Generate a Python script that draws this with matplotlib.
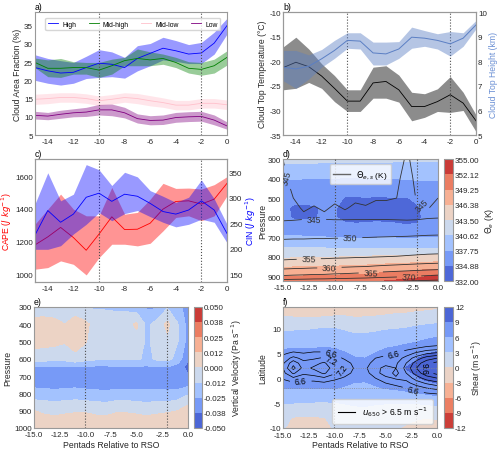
import numpy as np
import matplotlib
matplotlib.use('Agg')
import matplotlib.pyplot as plt
from matplotlib.lines import Line2D
from matplotlib.ticker import FormatStrFormatter

plt.rcParams['font.family'] = ['Liberation Sans', 'DejaVu Sans']
plt.rcParams['font.size'] = 6.2
plt.rcParams['xtick.labelsize'] = 5.8
plt.rcParams['ytick.labelsize'] = 5.8
plt.rcParams['axes.unicode_minus'] = False
plt.rcParams['axes.edgecolor'] = '0.6'
plt.rcParams['axes.linewidth'] = 0.8
plt.rcParams['xtick.major.size'] = 0
plt.rcParams['ytick.major.size'] = 0
plt.rcParams['xtick.major.pad'] = 2
plt.rcParams['ytick.major.pad'] = 1.5
plt.rcParams['xtick.color'] = '0.15'
plt.rcParams['ytick.color'] = '0.15'
plt.rcParams['axes.labelcolor'] = '0.15'
plt.rcParams['axes.labelpad'] = 1.5

# ---- data ----
pentads = np.arange(-15, 1)

# a) cloud area fraction (%)
high = [23.5, 22.6, 22.0, 22.2, 23.5, 24.7, 24.4, 23.5, 26.0, 27.4, 28.8, 28.1, 27.2, 27.5, 30.2, 35.0]
high_hi = [27.0, 26.0, 25.4, 24.9, 26.6, 28.4, 27.8, 26.3, 29.5, 30.1, 31.8, 30.9, 29.8, 30.4, 33.2, 37.0]
high_lo = [20.0, 19.2, 18.7, 19.2, 20.5, 20.8, 21.0, 20.6, 22.6, 24.0, 25.6, 25.2, 24.6, 24.6, 27.2, 32.7]
midhigh = [24.9, 23.3, 23.3, 23.5, 23.5, 22.8, 24.0, 25.4, 26.0, 25.6, 26.0, 24.9, 23.3, 23.0, 24.0, 26.3]
midhigh_hi = [26.1, 25.6, 26.0, 25.1, 24.9, 24.9, 25.8, 26.3, 28.6, 27.8, 27.2, 26.3, 25.1, 24.9, 25.8, 28.1]
midhigh_lo = [23.5, 21.0, 20.8, 21.7, 21.7, 20.8, 21.7, 24.0, 24.0, 24.0, 24.4, 23.5, 22.0, 21.4, 22.0, 24.2]
midlow = [14.8, 15.0, 15.3, 15.3, 15.0, 14.4, 14.8, 15.3, 15.0, 14.4, 13.9, 13.2, 13.2, 13.7, 13.7, 13.3]
midlow_hi = [16.2, 16.4, 16.6, 16.6, 16.3, 15.7, 16.1, 16.6, 16.4, 15.8, 15.2, 14.5, 14.5, 15.0, 15.0, 14.6]
midlow_lo = [13.4, 13.6, 14.0, 14.0, 13.7, 13.1, 13.5, 14.0, 13.6, 13.0, 12.6, 11.9, 11.9, 12.4, 12.4, 12.0]
low = [10.4, 10.2, 10.7, 11.1, 11.3, 11.9, 11.9, 11.1, 9.5, 9.0, 9.1, 9.8, 10.0, 10.1, 9.1, 7.5]
low_hi = [11.5, 11.2, 11.8, 12.2, 12.6, 13.4, 13.5, 12.6, 10.8, 10.3, 10.5, 11.2, 11.4, 11.5, 10.5, 8.6]
low_lo = [9.4, 9.2, 9.6, 10.0, 10.1, 10.5, 10.3, 9.7, 8.3, 7.8, 7.9, 8.5, 8.7, 8.8, 7.8, 6.6]

# b) cloud top temperature (C) and height (km)
ctt = [-21.3, -20.2, -21.1, -23.0, -25.5, -28.1, -28.1, -24.4, -24.1, -25.8, -29.2, -29.2, -28.2, -26.8, -28.5, -32.1]
ctt_hi = [-17.1, -15.1, -17.5, -20.5, -22.9, -25.8, -25.8, -21.2, -20.9, -22.8, -26.3, -26.6, -25.6, -23.1, -26.3, -30.9]
ctt_lo = [-25.8, -25.5, -24.3, -25.5, -28.2, -30.2, -30.2, -27.5, -27.5, -28.3, -32.1, -31.4, -30.2, -30.4, -30.0, -34.3]
cth = [7.76, 7.69, 7.80, 8.10, 8.44, 8.85, 8.82, 8.34, 8.30, 8.50, 8.98, 8.94, 8.85, 8.71, 8.94, 9.48]
cth_hi = [8.44, 8.44, 8.26, 8.48, 8.85, 9.16, 9.16, 8.78, 8.78, 8.80, 9.39, 9.25, 9.12, 9.21, 9.16, 9.66]
cth_lo = [7.21, 6.90, 7.28, 7.76, 8.12, 8.53, 8.50, 7.85, 7.85, 8.12, 8.53, 8.61, 8.50, 8.21, 8.61, 9.32]

# c) CAPE and CIN (J/kg)
cape = [1180, 1229, 1287, 1225, 1147, 1246, 1352, 1274, 1276, 1313, 1399, 1446, 1450, 1430, 1460, 1557]
cape_hi = [1307, 1399, 1491, 1399, 1358, 1358, 1532, 1368, 1379, 1460, 1557, 1526, 1528, 1522, 1549, 1598]
cape_lo = [1031, 1041, 1082, 1061, 996, 1102, 1184, 1184, 1174, 1190, 1266, 1348, 1358, 1328, 1358, 1481]
cin = [227, 275, 252, 268, 301, 309, 293, 307, 303, 289, 273, 268, 276, 294, 276, 230]
cin_hi = [288, 349, 294, 307, 365, 355, 324, 350, 341, 314, 303, 291, 301, 335, 298, 248]
cin_lo = [199, 199, 206, 229, 248, 271, 255, 269, 275, 263, 252, 243, 248, 258, 252, 212]

# d) theta_e (filled) and theta_es (lines), one list per pentad
p_d = [300, 400, 500, 550, 600, 650, 700, 750, 800, 850, 900, 925]
theta_e_cols = [
    [341.5, 337.9, 336.0, 335.5, 335.8, 336.6, 338.0, 340.6, 343.0, 346.0, 349.0, 350.5],
    [341.5, 337.8, 335.8, 334.5, 334.6, 336.5, 338.0, 340.5, 343.1, 346.2, 349.2, 350.6],
    [341.4, 337.8, 335.7, 334.4, 334.5, 336.4, 337.9, 340.3, 343.2, 346.3, 349.3, 350.8],
    [341.4, 337.8, 335.7, 334.6, 334.7, 336.3, 337.9, 340.4, 343.4, 346.5, 349.5, 351.0],
    [341.3, 337.7, 335.8, 335.2, 335.2, 336.2, 337.8, 340.3, 343.2, 346.2, 349.3, 350.9],
    [341.3, 337.7, 335.6, 335.0, 335.0, 336.1, 337.6, 340.2, 343.3, 346.4, 349.5, 351.2],
    [341.3, 337.6, 334.7, 334.3, 334.4, 335.4, 337.5, 340.1, 343.5, 346.6, 349.7, 351.4],
    [341.2, 337.6, 334.6, 334.2, 334.3, 335.3, 337.4, 340.0, 343.6, 346.7, 349.8, 351.5],
    [341.2, 337.7, 334.8, 334.2, 334.3, 335.4, 337.5, 340.1, 343.6, 346.8, 349.9, 351.7],
    [341.2, 337.7, 334.6, 334.3, 334.4, 335.5, 337.5, 340.1, 343.8, 347.0, 350.2, 351.9],
    [341.2, 337.8, 334.7, 334.3, 334.4, 335.4, 337.6, 340.2, 343.9, 347.2, 350.5, 352.2],
    [341.1, 337.8, 334.8, 334.3, 334.3, 335.3, 337.5, 340.1, 344.0, 347.4, 350.8, 352.5],
    [341.1, 337.9, 334.8, 334.2, 334.2, 335.1, 337.4, 340.0, 344.1, 347.5, 351.0, 352.8],
    [341.1, 338.0, 335.2, 334.7, 334.6, 335.1, 337.5, 340.1, 344.2, 347.7, 351.5, 353.2],
    [341.0, 338.0, 335.8, 335.4, 335.3, 335.8, 337.6, 340.0, 344.4, 347.9, 352.0, 353.6],
    [341.0, 338.0, 336.0, 335.5, 335.4, 336.0, 337.6, 340.0, 344.5, 348.0, 352.5, 354.0],
]
theta_es_cols = [
    [345.0, 344.6, 344.3, 344.1, 344.4, 346.2, 349.4, 352.0, 353.5, 358.0, 365.5, 372.0],
    [346.0, 345.6, 345.0, 344.6, 344.5, 346.3, 349.5, 352.1, 353.7, 358.3, 365.8, 372.3],
    [346.3, 346.0, 345.5, 345.2, 344.7, 346.3, 349.5, 352.1, 353.8, 358.5, 366.0, 372.5],
    [346.4, 346.0, 345.4, 344.9, 344.6, 346.4, 349.6, 352.2, 354.0, 358.8, 366.3, 372.8],
    [346.4, 346.0, 345.6, 345.2, 344.7, 346.4, 349.6, 352.2, 354.0, 358.8, 366.4, 372.9],
    [346.4, 346.0, 345.3, 344.8, 344.6, 346.4, 349.7, 352.3, 354.2, 359.2, 366.8, 373.2],
    [346.3, 345.9, 345.5, 345.1, 344.6, 346.4, 349.7, 352.3, 354.3, 359.4, 367.0, 373.4],
    [346.3, 345.9, 345.2, 344.8, 344.6, 346.5, 349.8, 352.4, 354.5, 359.7, 367.4, 373.6],
    [346.2, 345.8, 345.3, 344.9, 344.6, 346.5, 349.9, 352.4, 354.6, 359.9, 367.7, 373.8],
    [346.0, 345.6, 345.1, 344.7, 344.6, 346.6, 350.0, 352.5, 354.8, 360.3, 368.2, 374.2],
    [346.0, 345.6, 345.1, 344.7, 344.6, 346.6, 350.1, 352.6, 355.0, 360.6, 368.6, 374.5],
    [345.6, 345.2, 345.0, 344.6, 344.5, 346.7, 350.2, 352.6, 355.1, 360.9, 369.0, 374.8],
    [344.8, 344.6, 344.5, 344.3, 344.4, 346.7, 350.3, 352.7, 355.3, 361.2, 369.5, 375.1],
    [345.6, 345.3, 345.1, 344.8, 344.5, 346.8, 350.5, 352.8, 355.5, 361.5, 370.0, 375.4],
    [346.5, 346.0, 345.5, 345.1, 344.8, 346.9, 350.7, 352.9, 355.7, 361.8, 370.5, 375.7],
    [347.0, 346.0, 345.0, 344.5, 344.9, 347.0, 350.8, 353.0, 355.8, 362.0, 371.0, 376.0],
]

# e) vertical velocity (Pa/s), one list per pentad
p_e = [300, 400, 500, 600, 650, 700, 750, 800, 850, 900, 950, 1000]
omega_cols = [
    [-0.006, 0.004, 0.004, -0.006, -0.026, -0.030, -0.028, -0.020, -0.010, 0.000, 0.004, 0.005],
    [-0.007, 0.005, 0.004, -0.007, -0.027, -0.031, -0.028, -0.021, -0.011, -0.002, 0.003, 0.005],
    [-0.008, 0.004, 0.003, -0.008, -0.028, -0.031, -0.029, -0.022, -0.012, -0.003, 0.002, 0.004],
    [-0.009, 0.000, 0.001, -0.008, -0.027, -0.031, -0.028, -0.021, -0.011, -0.002, 0.003, 0.005],
    [-0.010, 0.008, 0.006, -0.004, -0.026, -0.030, -0.028, -0.020, -0.010, -0.001, 0.003, 0.005],
    [-0.013, 0.003, 0.001, -0.008, -0.027, -0.031, -0.029, -0.021, -0.011, -0.001, 0.003, 0.004],
    [-0.014, -0.005, -0.006, -0.010, -0.028, -0.031, -0.029, -0.022, -0.012, -0.002, 0.002, 0.004],
    [-0.014, -0.006, -0.007, -0.011, -0.028, -0.032, -0.030, -0.023, -0.013, -0.003, 0.002, 0.004],
    [-0.015, -0.006, -0.006, -0.010, -0.027, -0.031, -0.029, -0.021, -0.011, -0.001, 0.003, 0.005],
    [-0.016, -0.004, -0.006, -0.010, -0.027, -0.031, -0.029, -0.021, -0.011, -0.001, 0.003, 0.005],
    [-0.020, 0.002, -0.004, -0.010, -0.027, -0.031, -0.029, -0.021, -0.012, -0.002, 0.003, 0.004],
    [-0.027, -0.016, -0.015, -0.016, -0.027, -0.031, -0.029, -0.022, -0.013, -0.003, 0.002, 0.004],
    [-0.027, -0.007, -0.007, -0.010, -0.026, -0.031, -0.029, -0.022, -0.012, -0.002, 0.003, 0.004],
    [-0.014, 0.003, -0.002, -0.008, -0.026, -0.032, -0.030, -0.022, -0.012, -0.001, 0.003, 0.004],
    [-0.020, -0.012, -0.012, -0.018, -0.030, -0.034, -0.030, -0.021, -0.010, 0.000, 0.004, 0.005],
    [-0.032, -0.030, -0.030, -0.036, -0.042, -0.036, -0.028, -0.015, -0.002, 0.003, 0.005, 0.006],
]

# f) shear (m/s) and u650 (m/s), one list per pentad
lat_f = [-10, -8, -6, -4, -2, 0, 2, 4, 6, 8, 10, 12, 14.3]
shear_cols = [
    [0.3, 0.8, 2.2, 4.0, 6.0, 7.2, 7.8, 7.1, 5.9, 4.4, 2.4, 0.5, -2.0],
    [-1.0, -0.2, 2.0, 4.0, 6.1, 7.3, 7.9, 7.2, 5.9, 4.3, 2.5, 0.3, -2.5],
    [-1.2, -0.3, 1.9, 3.9, 6.2, 7.4, 7.9, 7.3, 6.0, 4.2, 2.6, 0.2, -3.0],
    [-1.2, -0.3, 1.8, 3.8, 6.1, 7.4, 7.9, 7.3, 6.0, 4.2, 2.8, 0.3, -3.5],
    [-0.8, -0.1, 1.7, 3.8, 6.2, 7.5, 8.0, 7.4, 6.1, 4.5, 3.0, 0.5, -3.5],
    [0.2, 0.8, 1.8, 3.9, 6.1, 7.3, 7.8, 7.2, 6.0, 4.4, 3.0, 0.8, -3.0],
    [0.5, 1.0, 2.2, 4.1, 5.8, 6.8, 7.2, 6.6, 5.6, 4.0, 2.6, 0.6, -2.2],
    [0.6, 1.2, 2.6, 4.5, 5.6, 6.3, 6.6, 6.1, 5.2, 3.6, 2.2, 0.2, -2.0],
    [0.6, 1.2, 2.7, 4.5, 5.5, 6.3, 6.5, 6.0, 5.0, 3.6, 2.3, 0.3, -2.2],
    [0.5, 1.1, 2.4, 4.2, 5.8, 6.6, 7.0, 6.6, 5.4, 3.8, 2.5, 0.6, -2.5],
    [0.4, 1.0, 2.2, 4.1, 6.1, 7.0, 7.3, 7.0, 6.0, 4.2, 2.7, 0.8, -2.0],
    [0.2, 0.9, 2.0, 4.0, 6.4, 7.5, 7.8, 7.4, 6.3, 4.5, 2.8, 1.0, -1.5],
    [-0.3, 0.6, 1.8, 4.2, 6.8, 8.2, 9.1, 8.0, 6.8, 4.8, 3.0, 1.2, -1.5],
    [-0.8, 0.2, 1.8, 4.5, 7.2, 8.8, 9.6, 8.8, 7.2, 5.2, 3.4, 1.4, -1.0],
    [-1.0, 0.0, 2.0, 5.0, 7.6, 9.5, 10.5, 9.8, 7.8, 5.8, 3.8, 1.5, -0.8],
    [-1.0, 0.2, 2.3, 5.4, 8.0, 10.0, 11.0, 10.2, 8.4, 6.2, 4.2, 1.6, -0.5],
]
lat_u = [-4, -3, -2, -1, 0, 1, 2, 3, 4, 5, 6, 7]
u650_cols = [
    [5.6, 5.8, 6.0, 6.3, 6.7, 7.0, 7.2, 7.1, 6.8, 6.5, 6.2, 6.0],
    [5.7, 5.9, 6.1, 6.5, 7.1, 7.9, 8.6, 8.2, 7.4, 6.7, 6.3, 6.0],
    [5.7, 5.9, 6.1, 6.4, 6.9, 7.3, 7.6, 7.4, 7.0, 6.6, 6.3, 6.0],
    [5.7, 5.9, 6.1, 6.4, 6.9, 7.5, 7.9, 7.6, 7.1, 6.7, 6.3, 6.0],
    [5.7, 5.9, 6.1, 6.5, 7.1, 7.9, 8.2, 7.9, 7.3, 6.7, 6.3, 6.0],
    [5.6, 5.8, 6.0, 6.3, 6.8, 7.3, 7.5, 7.3, 6.9, 6.5, 6.2, 5.9],
    [5.5, 5.7, 5.9, 6.1, 6.5, 6.9, 7.2, 6.9, 6.5, 6.2, 6.0, 5.8],
    [5.4, 5.6, 5.8, 6.0, 6.2, 6.4, 6.5, 6.4, 6.2, 6.0, 5.8, 5.6],
    [5.4, 5.6, 5.8, 6.0, 6.2, 6.4, 6.5, 6.4, 6.2, 6.0, 5.8, 5.6],
    [5.6, 5.8, 6.1, 6.4, 6.6, 6.9, 7.0, 6.8, 6.6, 6.4, 6.0, 5.8],
    [5.7, 6.0, 6.3, 6.6, 7.0, 7.6, 7.4, 7.0, 6.7, 6.5, 6.1, 5.8],
    [5.8, 6.1, 6.4, 6.8, 7.3, 7.0, 7.2, 7.1, 6.9, 6.6, 6.2, 5.9],
    [5.9, 6.2, 6.6, 7.0, 7.4, 7.8, 8.0, 7.8, 7.4, 6.9, 6.4, 6.0],
    [6.0, 6.4, 6.9, 7.5, 8.1, 8.7, 9.0, 8.7, 8.1, 7.3, 6.6, 6.1],
    [6.1, 6.6, 7.2, 7.9, 8.7, 9.4, 9.8, 9.4, 8.7, 7.7, 6.8, 6.2],
    [6.1, 6.7, 7.4, 8.2, 9.0, 9.8, 10.2, 9.8, 9.0, 7.9, 6.9, 6.3],
]

rso_marks = [-10, -2]
map_xticks = [-15, -12.5, -10, -7.5, -5, -2.5, 0]


def mark_rso(ax):
    for xv in rso_marks:
        ax.axvline(xv, color='0.3', ls=':', lw=0.8, zorder=5)


def letter(ax, s):
    ax.text(0.0, 1.005, s, transform=ax.transAxes, va='bottom', ha='left', fontsize=6.2)


def map_xaxis(ax):
    ax.set_xlim(-15, 0)
    ax.set_xticks(map_xticks)
    ax.xaxis.set_major_formatter(FormatStrFormatter('%.1f'))


fig = plt.figure(figsize=(5, 4.52), dpi=100)

# ---- a) ----
ax = fig.add_axes([0.07, 0.699, 0.384, 0.272])
for mean, hi, lo, c, name in [(high, high_hi, high_lo, 'blue', 'High'),
                              (midhigh, midhigh_hi, midhigh_lo, 'green', 'Mid-high'),
                              (midlow, midlow_hi, midlow_lo, 'pink', 'Mid-low'),
                              (low, low_hi, low_lo, 'purple', 'Low')]:
    ax.fill_between(pentads, lo, hi, color=c, alpha=0.4, lw=0)
    ax.plot(pentads, mean, color=c, lw=0.6, label=name)
mark_rso(ax)
ax.set_xlim(-15, 0)
ax.set_ylim(5, 38.7)
ax.set_xticks([-14, -12, -10, -8, -6, -4, -2, 0])
ax.set_yticks([5, 10, 15, 20, 25, 30, 35])
ax.set_ylabel('Cloud Area Fraction (%)')
ax.legend(loc='upper center', ncol=4, fontsize=4.9, frameon=True, edgecolor='0.8',
          columnspacing=1.8, handlelength=1.5, handletextpad=0.6, borderpad=0.4,
          bbox_to_anchor=(0.51, 0.98))
letter(ax, 'a)')

# ---- b) ----
ax = fig.add_axes([0.566, 0.699, 0.386, 0.272])
ax.fill_between(pentads, ctt_lo, ctt_hi, color='k', alpha=0.45, lw=0)
ax.plot(pentads, ctt, color='k', lw=0.6)
mark_rso(ax)
ax.set_xlim(-15, 0)
ax.set_ylim(-35, -10)
ax.set_xticks([-14, -12, -10, -8, -6, -4, -2, 0])
ax.set_ylabel('Cloud Top Temperature (°C)')
letter(ax, 'b)')
axr = ax.twinx()
axr.fill_between(pentads, cth_lo, cth_hi, color='#5b7fc4', alpha=0.45, lw=0)
axr.plot(pentads, cth, color='#5b7fc4', lw=0.7)
axr.set_ylim(5, 10)
axr.set_ylabel('Cloud Top Height (km)', color='#6a8fd4')

# ---- c) ----
ax = fig.add_axes([0.07, 0.374, 0.384, 0.272])
ax.fill_between(pentads, cape_lo, cape_hi, color='red', alpha=0.42, lw=0)
ax.plot(pentads, cape, color='red', lw=0.6)
mark_rso(ax)
ax.set_xlim(-15, 0)
ax.set_ylim(953, 1706)
ax.set_xticks([-14, -12, -10, -8, -6, -4, -2, 0])
ax.set_yticks([1000, 1200, 1400, 1600])
ax.set_ylabel('CAPE ($J\\ kg^{-1}$)', color='red', labelpad=1)
letter(ax, 'c)')
axr = ax.twinx()
axr.fill_between(pentads, cin_lo, cin_hi, color='blue', alpha=0.4, lw=0)
axr.plot(pentads, cin, color='blue', lw=0.6)
axr.set_ylim(135, 376)
axr.set_yticks([150, 200, 250, 300, 350])
axr.set_ylabel('CIN ($J\\ kg^{-1}$)', color='blue', labelpad=0.5)

# ---- d) ----
ax = fig.add_axes([0.566, 0.376, 0.31, 0.27])
lev_d = np.linspace(332, 355, 9)
cf = ax.contourf(pentads, p_d, np.array(theta_e_cols).T, levels=lev_d, cmap='coolwarm')
cs = ax.contour(pentads, p_d, np.array(theta_es_cols).T, levels=[345, 350, 355, 360, 365, 370, 375],
                colors='0.2', linewidths=0.6)
ax.clabel(cs, fmt='%d', fontsize=6.2, inline=True,
          manual=[(-14.3, 390), (-12, 615), (-8.5, 712), (-12.5, 820), (-10.5, 866),
                  (-6.5, 884), (-2.8, 900), (-2.0, 560)])
mark_rso(ax)
map_xaxis(ax)
ax.set_ylim(925, 300)
ax.set_yticks([300, 400, 500, 600, 700, 800, 900])
ax.set_ylabel('Pressure', labelpad=0.5)
ax.legend(handles=[Line2D([], [], color='0.4', lw=1.0)], labels=['$\\Theta_{e,s}$ (K)'],
          loc='upper center', fontsize=6, edgecolor='0.8', bbox_to_anchor=(0.5, 0.99))
letter(ax, 'd)')
cax = fig.add_axes([0.888, 0.376, 0.018, 0.27])
cb = fig.colorbar(cf, cax=cax, ticks=lev_d)
cb.ax.set_yticklabels(['%.2f' % v for v in lev_d])
cb.outline.set_edgecolor('0.6')
cb.set_label('$\\Theta_e$ (K)', labelpad=2)

# ---- e) ----
ax = fig.add_axes([0.068, 0.051, 0.308, 0.268])
lev_e = np.linspace(-0.05, 0.05, 9)
cf = ax.contourf(pentads, p_e, np.array(omega_cols).T, levels=lev_e, cmap='coolwarm')
mark_rso(ax)
map_xaxis(ax)
ax.set_ylim(1000, 300)
ax.set_ylabel('Pressure')
ax.set_xlabel('Pentads Relative to RSO')
letter(ax, 'e)')
cax = fig.add_axes([0.388, 0.051, 0.016, 0.268])
cb = fig.colorbar(cf, cax=cax, ticks=lev_e)
cb.ax.set_yticklabels(['%.3f' % (v + 0.0) for v in lev_e])
cb.outline.set_edgecolor('0.6')
cb.set_label('Vertical Velocity (Pa s$^{-1}$)', labelpad=2)

# ---- f) ----
ax = fig.add_axes([0.566, 0.051, 0.308, 0.268])
lev_f = np.arange(-12, 13, 3)
cf = ax.contourf(pentads, lat_f, np.array(shear_cols).T, levels=lev_f, cmap='coolwarm_r')
cs = ax.contour(pentads, lat_u, np.array(u650_cols).T, levels=[6.6, 7.2, 7.8, 8.4, 9.0, 9.6],
                colors='k', linewidths=0.5)
ax.clabel(cs, fmt='%.1f', fontsize=6.2, inline=True,
          manual=[(-10.3, 5.0), (-10.2, 4.0), (-9.2, 1.5), (-13.3, -0.3),
                  (-4.2, 4.8), (-1.5, 2.0), (-2.3, -2.3)])
mark_rso(ax)
for yv in [2, -2]:
    ax.axhline(yv, color='0.55', ls=':', lw=0.6, zorder=5)
map_xaxis(ax)
ax.tick_params(axis='x', pad=3)
ax.set_ylim(-10, 14.3)
ax.set_yticks([-10, -5, 0, 5, 10])
ax.set_ylabel('Latitude')
ax.set_xlabel('Pentads Relative to RSO', labelpad=0.5)
ax.legend(handles=[Line2D([], [], color='k', lw=0.8)],
          labels=['$u_{650}$ > 6.5 m s$^{-1}$'], loc='lower right', fontsize=6.2,
          edgecolor='0.8', borderpad=0.6)
letter(ax, 'f)')
cax = fig.add_axes([0.888, 0.051, 0.018, 0.268])
cb = fig.colorbar(cf, cax=cax, ticks=lev_f)
cb.outline.set_edgecolor('0.6')
cb.set_label('Shear (m s$^{-1}$)', labelpad=2)

fig.savefig('out.png', dpi=100)
